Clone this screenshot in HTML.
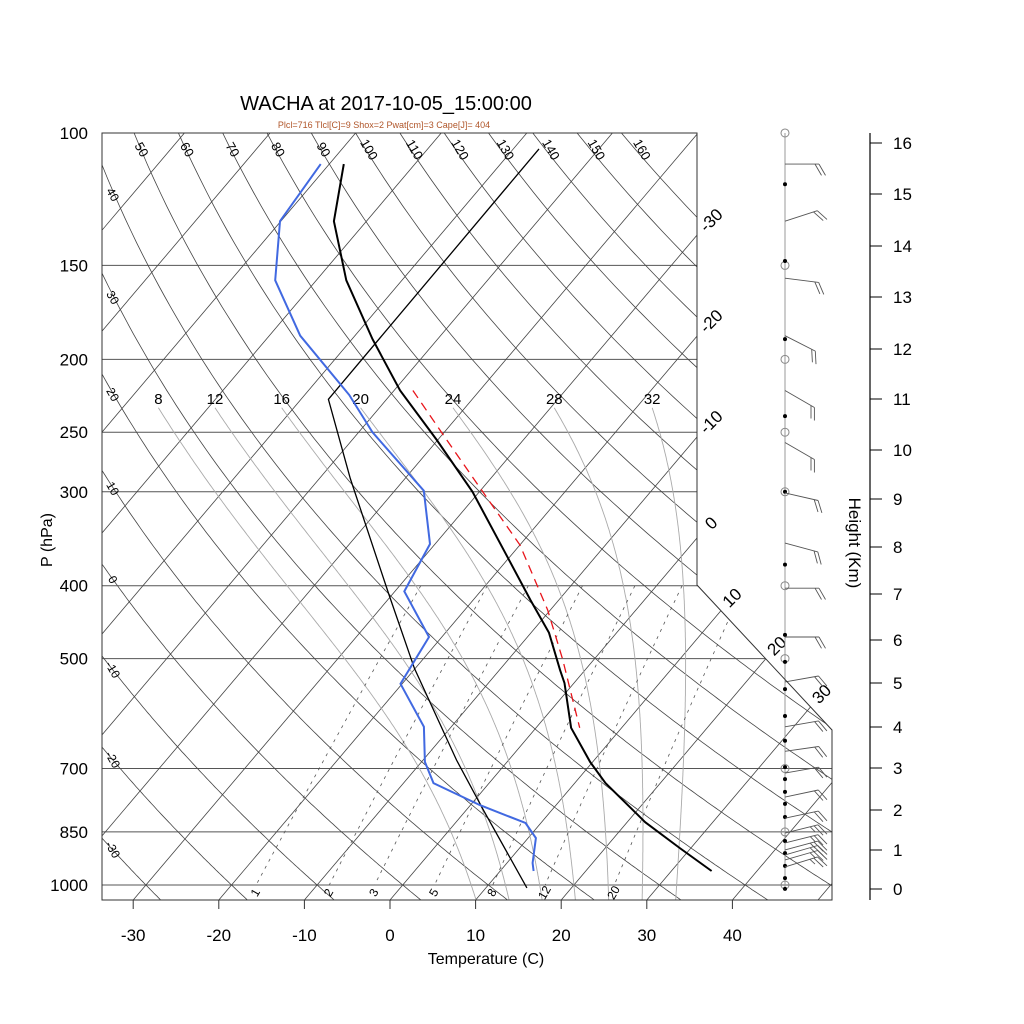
<!DOCTYPE html>
<html><head><meta charset="utf-8"><style>
body{margin:0;background:#fff;}
svg{display:block;font-family:"Liberation Sans",Arial,sans-serif;}
</style></head><body>
<svg id="c" width="1024" height="1024" viewBox="0 0 1024 1024" xmlns="http://www.w3.org/2000/svg">
<defs><clipPath id="clip"><polygon points="102,133 697,133 697,585 832,730 832,900 102,900"/></clipPath></defs>
<text x="386" y="110" font-size="20" text-anchor="middle">WACHA at 2017-10-05_15:00:00</text>
<text x="384" y="128" font-size="9" fill="#b0562a" text-anchor="middle">Plcl=716 Tlcl[C]=9 Shox=2 Pwat[cm]=3 Cape[J]= 404</text>
<g id="grid" clip-path="url(#clip)"></g>
<g id="labels"></g>
<g id="series"></g>
<g id="wind"></g>
<g id="axes"></g>
<text x="486" y="964" font-size="16" text-anchor="middle">Temperature (C)</text>
<text transform="translate(52,540) rotate(-90)" font-size="16" text-anchor="middle">P (hPa)</text>
<text transform="translate(849,543) rotate(90)" font-size="17" text-anchor="middle">Height (Km)</text>
</svg>
<script>
// ---- data ----
const envP=[110,131,157,188,220,256,300,366,418,462,518,539,618,686,732,825,893,958];
const envT=[-78.3,-73.8,-66.5,-57.6,-49.3,-40.1,-30.8,-20.3,-13.3,-7.9,-2.9,-1.1,4.1,9.7,13.6,22.1,28.7,34.7];
const dewP=[110,131,157,186,223,250,299,352,407,468,540,616,686,732,783,827,866,935,958];
const dewT=[-81.0,-80.1,-74.8,-66.4,-54.8,-48.4,-36.6,-30.6,-28.9,-21.5,-20.2,-13.2,-9.6,-6.5,1.1,8.2,10.9,13.0,13.9];
const parcelP=[105,226,288,409,515,682,795,1009];
const parcelT=[-57.0,-56.8,-46.4,-30.6,-20.1,-6.1,2.0,14.8];
const moistP=[220,251,296,353,431,502,559,618];
const moistT=[-47.8,-40.1,-30.4,-20.0,-10.3,-3.6,0.9,5.1];
const pLevels=[100,150,200,250,300,400,500,700,850,1000];
const tTicks=[-30,-20,-10,0,10,20,30,40];
const thetaVals=[-30,-20,-10,0,10,20,30,40,50,60,70,80,90,100,110,120,130,140,150,160];
const isoVals=[-120,-110,-100,-90,-80,-70,-60,-50,-40,-30,-20,-10,0,10,20,30,40,50];
const isoLabelVals=[-30,-20,-10,0,10,20,30];
const thetaWVals=[8,12,16,20,24,28,32];
const mixVals=[1,2,3,5,8,12,20];
const barbP=[110,131,156,186,220,258,301,351,403,468,537,616,664,710,764,815,853,879,898,912,926,946];
const barbDir=[90,72,97,117,120,120,103,105,90,90,80,80,82,80,78,78,76,76,75,74,74,73];
const barbSpd=[20,20,20,20,20,20,20,20,20,20,20,20,20,20,20,20,25,25,25,25,25,25];
const dotP=[117,148,188,238,300,375,465,505,549,596,643,697,723,752,780,812,874,907,943,979,1012];
const circP=[100,150,200,250,300,400,500,700,850,1000];
const hKm=[0,1,2,3,4,5,6,7,8,9,10,11,12,13,14,15,16];
const hY=[889,850,810,768,727,683,640,594,547,499,450,399,349,297,246,194,143];

// ---- axis functions ----
const NS="http://www.w3.org/2000/svg";
function yP(p){return 885-326.6*Math.log(1000/p);}
function xTP(T,p){const y=yP(p);return 390+8.56*T+0.848*(900-y);}
function xTY(T,y){return 390+8.56*T+0.848*(900-y);}
function mk(tag,attrs,parent){const e=document.createElementNS(NS,tag);for(const k in attrs)e.setAttribute(k,attrs[k]);parent.appendChild(e);return e;}
const grid=document.getElementById('grid'),labels=document.getElementById('labels'),series=document.getElementById('series'),wind=document.getElementById('wind'),axes=document.getElementById('axes');
function pts(arrP,arrT){return arrP.map((p,i)=>xTP(arrT[i],p).toFixed(1)+','+yP(p).toFixed(1)).join(' ');}

// isobars
pLevels.forEach(p=>{const y=yP(p);const l=mk('line',{x1:102,x2:832,y1:y,y2:y,stroke:'#555','stroke-width':1},grid);

});
// isotherms
isoVals.forEach(T=>{const l=mk('line',{x1:xTY(T,900),y1:900,x2:xTY(T,133),y2:133,stroke:'#444','stroke-width':0.8},grid);

});
// dry adiabats
function thetaT(th,p){return (th+273.15)*Math.pow(p/1000,0.286)-273.15;}
thetaVals.forEach(th=>{let s=[];for(let p=95;p<=1060;p+=5)s.push(xTP(thetaT(th,p),p).toFixed(1)+','+yP(p).toFixed(1));
const l=mk('polyline',{points:s.join(' '),fill:'none',stroke:'#444','stroke-width':0.8},grid);

});
// moist adiabats
function es(T){return 6.112*Math.exp(17.67*T/(T+243.5));}
function dTdp(T,p){const Tk=T+273.15,e=es(T),rs=0.622*e/(p-e),L=2.5e6,Rd=287,cp=1004;return (Rd*Tk+L*rs)/(p*(cp+L*L*rs*0.622/(Rd*Tk*Tk)));}
thetaWVals.forEach(tw=>{let up=[],T=tw,p=1000;while(p>233){up.push([p,T]);T-=dTdp(T,p)*2;p-=2;}up.push([p,T]);
let dn=[],T2=tw,p2=1000;while(p2<1060){T2+=dTdp(T2,p2)*2;p2+=2;dn.push([p2,T2]);}
const all=up.reverse().concat(dn);
const l=mk('polyline',{points:all.map(a=>xTP(a[1],a[0]).toFixed(1)+','+yP(a[0]).toFixed(1)).join(' '),fill:'none',stroke:'#aaa','stroke-width':0.9},grid);


const top=all[0];const t=mk('text',{x:xTP(top[1],top[0]).toFixed(1),y:404,'font-size':15,'text-anchor':'middle'},labels);t.textContent=tw;

});
// mixing ratio
function tdFromW(w,p){const e=w*p/(622+w);const a=Math.log(e/6.112);return 243.5*a/(17.67-a);}
mixVals.forEach(w=>{let s=[];for(let p=400;p<=1000;p+=10)s.push(xTP(tdFromW(w,p),p).toFixed(1)+','+yP(p).toFixed(1));
const l=mk('polyline',{points:s.join(' '),fill:'none',stroke:'#555','stroke-width':0.8,'stroke-dasharray':'3,5'},grid);


const x=xTP(tdFromW(w,1000),1000);const t=mk('text',{transform:'translate('+x.toFixed(1)+',893) rotate(-60)','font-size':12,'text-anchor':'middle','dominant-baseline':'middle'},labels);t.textContent=w;

});
// theta labels
thetaVals.forEach(th=>{
 const pTop=yToP(163);const xt=xTP(thetaT(th,pTop),pTop);
 if(xt>110&&xt<690){const t=mk('text',{transform:'translate('+(xt-6).toFixed(1)+',150) rotate(60)','font-size':13,'text-anchor':'middle','dominant-baseline':'middle'},labels);t.textContent=th;
 
 }
 else if(xt<=110){let yy=null;for(let y=170;y<895;y++){const p=yToP(y);if(xTP(thetaT(th,p),p)>=116){yy=y;break;}}
  if(yy&&yy<880){const t=mk('text',{transform:'translate(112,'+(yy-4)+') rotate(60)','font-size':12,'text-anchor':'middle','dominant-baseline':'middle'},labels);t.textContent=th;
  
  }}
});
function yToP(y){return 1000*Math.exp(-(885-y)/326.6);}
// isotherm labels
isoLabelVals.forEach(T=>{let x,y;
 const yh=900-(697-390-8.56*T)/0.848;
 if(yh<=585){x=712;y=yh-14;}else{const y2=(390+8.56*T+0.848*900-697+585*135/145)/(0.848+135/145);x=697+(y2-585)*135/145+12;y=y2-12;}
 const t=mk('text',{transform:'translate('+x.toFixed(1)+','+y.toFixed(1)+') rotate(-45)','font-size':17,'text-anchor':'middle','dominant-baseline':'middle'},labels);t.textContent=T;
 
 });

// series
let l;
l=mk('polyline',{points:pts(moistP,moistT),fill:'none',stroke:'#e8141a','stroke-width':1.3,'stroke-dasharray':'9,6'},series);


l=mk('polyline',{points:pts(parcelP,parcelT),fill:'none',stroke:'#000','stroke-width':1.3},series);


l=mk('polyline',{points:pts(dewP,dewT),fill:'none',stroke:'#4169e1','stroke-width':2},series);


l=mk('polyline',{points:pts(envP,envT),fill:'none',stroke:'#000','stroke-width':2},series);



// frame
l=mk('polygon',{points:'102,133 697,133 697,585 832,730 832,900 102,900',fill:'none',stroke:'#333','stroke-width':1},axes);


pLevels.forEach(p=>{const t=mk('text',{x:88,y:yP(p)+6,'font-size':17,'text-anchor':'end'},axes);t.textContent=p;

});
tTicks.forEach(T=>{const x=390+8.56*T;const tk=mk('line',{x1:x,x2:x,y1:900,y2:909,stroke:'#333'},axes);


const t=mk('text',{x:x,y:941,'font-size':17,'text-anchor':'middle'},axes);t.textContent=T;

});
// height axis
l=mk('line',{x1:870,x2:870,y1:133,y2:900,stroke:'#000','stroke-width':1.2},axes);


hKm.forEach((h,i)=>{const tk=mk('line',{x1:870,x2:882,y1:hY[i],y2:hY[i],stroke:'#000'},axes);


const t=mk('text',{x:893,y:hY[i]+6,'font-size':17},axes);t.textContent=h;

});

// wind column
l=mk('line',{x1:785,x2:785,y1:133,y2:890,stroke:'#999','stroke-width':1},wind);


circP.forEach(p=>{const c=mk('circle',{cx:785,cy:yP(p),r:4,fill:'none',stroke:'#888','stroke-width':1},wind);

});
dotP.forEach(p=>{const c=mk('circle',{cx:785,cy:yP(p),r:2,fill:'#000'},wind);

});
barbP.forEach((p,i)=>{const y=yP(p),d=barbDir[i]*Math.PI/180,ux=Math.sin(d),uy=-Math.cos(d),L=34;
 const ex=785+ux*L,ey=y+uy*L;let s='M785,'+y.toFixed(1)+' L'+ex.toFixed(1)+','+ey.toFixed(1);
 const fx=0.5*ux-0.866*uy,fy=0.866*ux+0.5*uy;let spd=barbSpd[i],k=0;
 while(spd>=10){const bx=ex-ux*4*k,by=ey-uy*4*k;s+=' M'+bx.toFixed(1)+','+by.toFixed(1)+' l'+(fx*13).toFixed(1)+','+(fy*13).toFixed(1);spd-=10;k++;}
 if(spd>=5){const bx=ex-ux*4*k,by=ey-uy*4*k;s+=' M'+bx.toFixed(1)+','+by.toFixed(1)+' l'+(fx*7).toFixed(1)+','+(fy*7).toFixed(1);}
 const b=mk('path',{d:s,fill:'none',stroke:'#555','stroke-width':0.9},wind);
 
 });
</script>
</body></html>
